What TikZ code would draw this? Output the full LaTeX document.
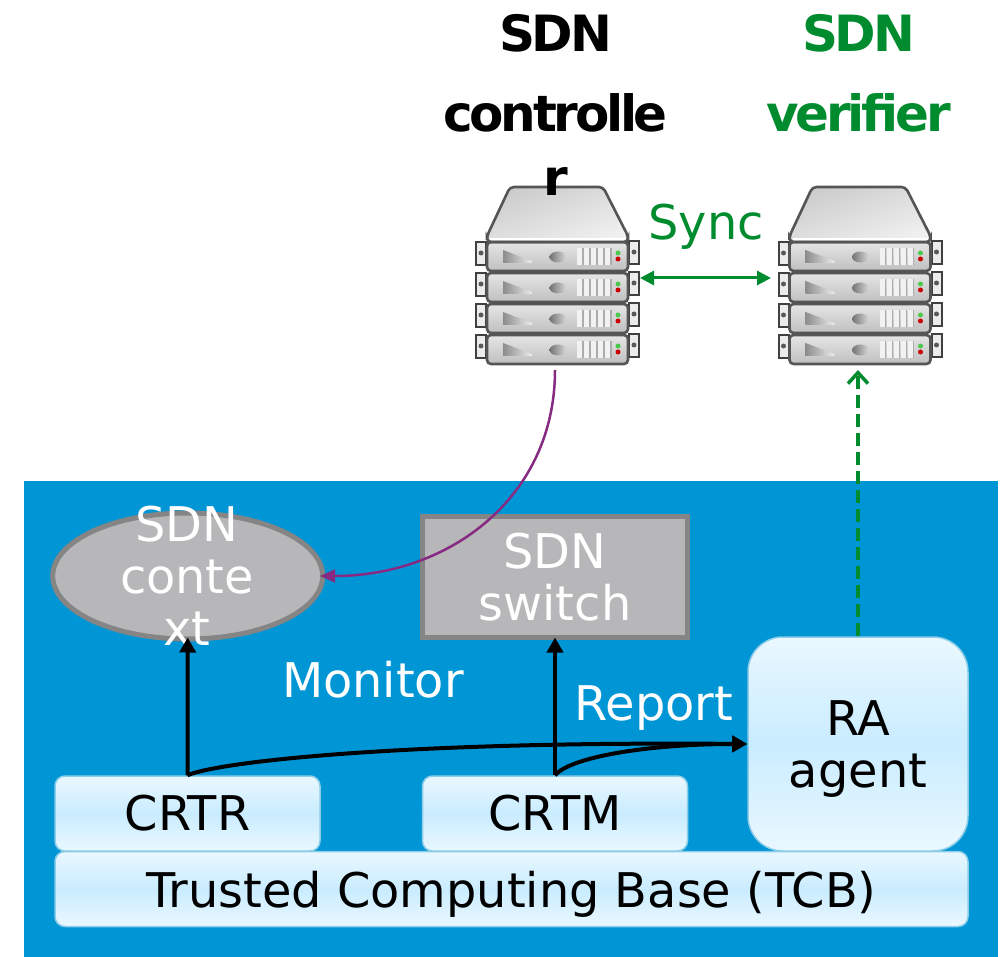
\documentclass[tikz,border=0pt]{standalone}
\usepackage{fontspec}
\setmainfont{DejaVu Sans}
\newfontfamily\headingfont[LetterSpace=-6.5]{DejaVu Sans Bold}
\usetikzlibrary{
	positioning,
	shapes.geometric,
	arrows.meta
}
\definecolor{PlatformBlue}{HTML}{0096D6}
\definecolor{BoxGray}{HTML}{B7B6B8}
\definecolor{BoxBorder}{HTML}{858585}
\definecolor{SyncGreen}{HTML}{008C2E}
\definecolor{ConfigPurple}{HTML}{862A82}
\definecolor{PaleBlue}{HTML}{EAF8FF}
\definecolor{MidBlue}{HTML}{C9ECFF}
\definecolor{PaleBorder}{HTML}{8CCDE8}
\definecolor{ServerLine}{HTML}{555555}

\tikzset{
	serverstack/.pic={
		% ears and front panels, lowest unit first
		\foreach \u in {-93,-62,-31,0} {
			\draw[line width=2pt, draw=black!75, fill=gray!15] (-81,36+\u) rectangle (-71,13+\u);
			\draw[line width=2pt, draw=black!75, fill=gray!15] (72,37+\u) rectangle (82,14+\u);
			\fill[gray!70!black] (-76,25+\u) circle (2.5);
			\fill[gray!70!black] (77,26+\u) circle (2.5);
			\draw[line width=2.6pt, draw=ServerLine, rounded corners=4pt, top color=gray!20, bottom color=gray!50] (-70,36+\u) rectangle (71,7+\u);
			\shade[left color=gray!90, right color=gray!15] (-54,28+\u) -- (-25,17+\u) -- (-25,15+\u) -- (-54,15+\u) -- cycle;
			\shade[left color=gray!90!black, right color=gray!30] (1,21+\u) ellipse (8.5 and 5.5);
			\foreach \v in {20,27,34,41,48} {
				\fill[gray!10] (\v,30+\u) rectangle (\v+5,13+\u);
				\fill[gray!65] (\v+5,30+\u) rectangle (\v+6.5,13+\u);
			}
			\fill[green!70!black!70] (61,25+\u) circle (2.5);
			\fill[red!80!black] (61,19+\u) circle (2.5);
		}
		% cover
		\draw[line width=2.6pt, draw=ServerLine, rounded corners=4pt, top color=gray!40, bottom color=gray!12, shading angle=20] (-47,91) -- (46,91) -- (71,42) -- (71,36) -- (-70,36) -- (-70,42) -- cycle;
		\draw[line width=1.5pt, white] (-67,39) -- (68,39);
	},
	paneltext/.style={font=\fontsize{47.8}{52}\selectfont, align=center, inner sep=0pt},
	heading/.style={font=\fontsize{50}{64}\headingfont\bfseries, align=center, inner sep=0pt},
	softbox/.style={
		paneltext, draw=PaleBorder, line width=1.5pt, rounded corners=10pt,
		top color=PaleBlue, bottom color=PaleBlue, middle color=MidBlue
	},
	graybox/.style={draw=BoxBorder, fill=BoxGray, line width=5pt, inner sep=0pt}
}

\begin{document}
\begin{tikzpicture}[
		x=1pt, y=1pt,
		>={Triangle[length=15pt, width=16pt]}
	]
	\useasboundingbox (0,0) rectangle (1002,-957);

	\fill[PlatformBlue] (24,-481) rectangle (998,-957);

	% servers
	\node[minimum width=164pt, minimum height=184pt, inner sep=0pt, outer sep=0pt] at(557,-278) (controller) {};
	\node[minimum width=164pt, minimum height=184pt, inner sep=0pt, outer sep=0pt] at(858,-278) (verifier) {};
	\pic at(controller.center) {serverstack};
	\pic at([xshift=1.5pt]verifier.center) {serverstack};

	\node[heading] at(555.5,-105) (controllerlabel) {SDN\\[16pt]controlle\\r};
	\node[heading, text=SyncGreen] at(858.5,-73) (verifierlabel) {SDN\\[16pt]verifier};
	\node[paneltext, text=SyncGreen, text depth=0pt] at(706,-222) (synclabel) {Sync};

	% switch plane
	\node[graybox, ellipse, minimum width=270pt, minimum height=126pt, outer sep=2.5pt] at(187.7,-576) (context) {};
	\node[paneltext, text=white] at(187,-576) (contextlabel) {SDN\\conte\\xt};
	\node[graybox, minimum width=265pt, minimum height=121pt, outer sep=0pt, text=white, paneltext] at(555,-577) (switch) {SDN\\switch};

	\node[softbox, minimum width=265pt, minimum height=75pt] at(187.5,-813.5) (crtr) {CRTR};
	\node[softbox, minimum width=265pt, minimum height=75pt] at(555,-813.5) (crtm) {CRTM};
	\node[softbox, minimum width=913pt, minimum height=75pt, text depth=0pt] at(511.5,-889) (tcb) {Trusted Computing Base (TCB)};
	\node[softbox, rounded corners=35pt, minimum width=220pt, minimum height=214pt, text depth=0pt] at(858,-744) (ra) {RA\\agent};

	\node[paneltext, text=white] at(373,-680) (monitorlabel) {Monitor};
	\node[paneltext, text=white] at(654,-708) (reportlabel) {Report};

	% connectors
	\begin{scope}[every path/.style={line width=4pt, ->}]
		\draw (crtr.north) -- ([yshift=4pt]context.south);
		\draw (crtm.north) -- (switch.south);
		\draw (crtr.north) .. controls +(30,13) and +(-350,3) .. (ra.west);
		\draw (crtm.north) .. controls +(15,18) and +(-100,0) .. (ra.west);
	\end{scope}

	\draw[<->, SyncGreen, line width=3pt, >={Triangle[length=14pt, width=14pt]}] ([xshift=1pt]controller.east) -- ([xshift=-5pt]verifier.west);
	\draw[SyncGreen, line width=3.5pt, dashed, dash pattern=on 13pt off 6pt, -{Straight Barb[length=11pt, width=20pt, line width=3.5pt]}] (ra.north) -- (verifier.south);
	\draw[->, ConfigPurple, line width=2.5pt, >={Triangle[length=15pt, width=13pt]}] ([xshift=-2pt]controller.south) to[out=-90, in=0, looseness=1.05] ([xshift=-5pt]context.east);
\end{tikzpicture}
\end{document}
